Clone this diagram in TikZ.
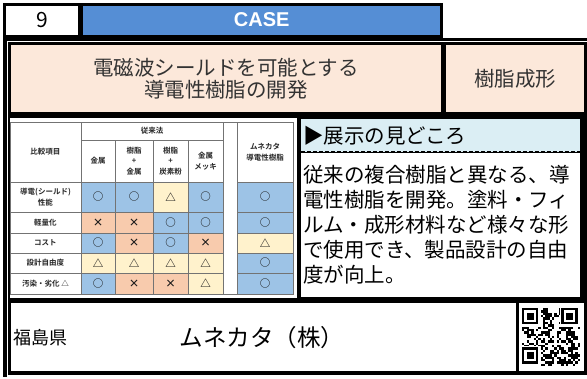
\documentclass[tikz,border=0pt]{standalone}
\usepackage{fontspec}
\setmainfont{Noto Sans CJK JP}
\newfontfamily\casefont{Liberation Sans}
\newfontfamily\tabfont{Noto Sans CJK JP Bold}
\usepackage{tikz}
\usetikzlibrary{positioning}
\definecolor{casebg}{HTML}{558ED5}
\definecolor{pinkbg}{HTML}{FCE8DA}
\definecolor{headbg}{HTML}{DBEEF4}
\definecolor{cgood}{HTML}{9DC3E6}
\definecolor{cbad}{HTML}{F8CBAD}
\definecolor{cfair}{HTML}{FFF2CC}
\tikzset{
  panel/.style={fill=white, inner sep=0pt, align=center},
  tabcell/.style={draw=black!55, line width=0.5pt, fill=white, inner sep=0pt, align=center,
    font=\tabfont\fontsize{7.5}{10.5}\selectfont, text=black!85},
  symcell/.style={tabcell, font=\tabfont\fontsize{10.5}{10.5}\selectfont, text=black!90},
  good/.style={symcell, fill=cgood, node contents={○}},
  bad/.style={symcell, fill=cbad, node contents={×}},
  fair/.style={symcell, fill=cfair, node contents={△}},
  bigtext/.style={font=\fontsize{20.5}{25}\selectfont}
}
\begin{document}
\begin{tikzpicture}[x=1pt, y=-1pt]
\useasboundingbox (0,0) rectangle (587,378);
\node (num)  at (42,20)     [draw, line width=3, fill=white, minimum width=75, minimum height=32, font=\fontsize{21}{21}\selectfont] {9};
\node (case) at (261.75,20) [draw, line width=3, fill=casebg, minimum width=360, minimum height=32, text=white, font=\casefont\fontsize{20}{20}\selectfont\bfseries] {CASE};
\draw[line width=3] (3,39.5) -- (587,39.5);
\draw[line width=4] (5,38) -- (5,377);
\fill (8,42) rectangle (587,375);
\node (title) at (226,78.5) [panel, fill=pinkbg, minimum width=430, minimum height=67, text=black!80, font=\fontsize{20.5}{21.5}\selectfont] {電磁波シールドを可能とする\\導電性樹脂の開発};
\node (kind)  at (515,78.5) [panel, fill=pinkbg, minimum width=138, minimum height=67, bigtext, text=black!80] {樹脂成形};
\node (tablebg) at (153.5,208) [panel, minimum width=287, minimum height=180] {};
\node (item) at (45.5,152)  [tabcell, minimum width=71, minimum height=60] {比較項目};
\node (conv) at (152,131)   [tabcell, minimum width=142, minimum height=18] {従来法};
\node (h1)   at (98,161)    [tabcell, minimum width=34, minimum height=42] {金属};
\node (h2)   at (134,161)   [tabcell, minimum width=38, minimum height=42] {樹脂\\+\\金属};
\node (h3)   at (170.5,161) [tabcell, minimum width=35, minimum height=42] {樹脂\\+\\炭素粉};
\node (h4)   at (205.5,161) [tabcell, minimum width=35, minimum height=42] {金属\\メッキ};
\node (gap)  at (230,208)   [tabcell, minimum width=14, minimum height=172] {};
\node (h5)   at (265,152)   [tabcell, minimum width=56, minimum height=60] {ムネカタ\\導電性樹脂};
\foreach \r/\y/\h/\lab/\a/\b/\c/\d/\e in {
  1/197/30/{導電(シールド)\\性能}/good/good/fair/good/good,
  2/222.5/21/軽量化/bad/bad/good/good/good,
  3/243/20/コスト/good/bad/good/bad/fair,
  4/263/20/設計自由度/fair/fair/fair/fair/good,
  5/283.5/21/{汚染・劣化 △}/good/bad/bad/fair/good}{
  \node (l\r)   at (45.5,\y)  [tabcell, minimum width=71, minimum height=\h] {\lab};
  \node (s\r-1) at (98,\y)    [\a, minimum width=34, minimum height=\h];
  \node (s\r-2) at (134,\y)   [\b, minimum width=38, minimum height=\h];
  \node (s\r-3) at (170.5,\y) [\c, minimum width=35, minimum height=\h];
  \node (s\r-4) at (205.5,\y) [\d, minimum width=35, minimum height=\h];
  \node (s\r-5) at (265,\y)   [\e, minimum width=56, minimum height=\h];
}
\node (pointhead) at (440.5,135.5) [panel, fill=headbg, minimum width=279, minimum height=33, text width=275, align=left, bigtext] {▶展示の見どころ};
\node (pointbody) at (440.5,225)   [panel, minimum width=279, minimum height=144, text width=275, align=left, bigtext] {従来の複合樹脂と異なる、導\\電性樹脂を開発。塗料・フィ\\ルム・成形材料など様々な形\\で使用でき、製品設計の自由\\度が向上。};
\draw[line width=1.5, dash pattern=on 4 off 2] (pointhead.south west) -- (pointhead.south east);
\node (bottom) at (263.5,337) [panel, minimum width=505, minimum height=68] {};
\node (pref) at (13,338) [anchor=west, inner sep=0pt, font=\fontsize{18}{18}\selectfont] {福島県};
\node (company) at (262,338) [inner sep=0pt, font=\fontsize{23.5}{23.5}\selectfont] {ムネカタ（株）};
\node (qrcell) at (551.5,337) [panel, minimum width=65, minimum height=68] {};
\pgfmathsetseed{42}
\foreach \i in {0,...,24}{
  \foreach \j in {0,...,24}{
    \pgfmathrandominteger{\bit}{0}{1}
    \ifnum\bit=1 \fill (522+\i*2.32,308+\j*2.32) rectangle ++(2.32,2.32); \fi
  }
}
\foreach \px/\py in {522/308, 561.44/308, 522/347.44}{
  \fill[white] (\px-1,\py-1) rectangle ++(18.56+1,18.56+1);
  \fill (\px,\py) rectangle ++(16.24,16.24);
  \fill[white] (\px+2.32,\py+2.32) rectangle ++(11.6,11.6);
  \fill (\px+4.64,\py+4.64) rectangle ++(6.96,6.96);
}
\end{tikzpicture}
\end{document}
